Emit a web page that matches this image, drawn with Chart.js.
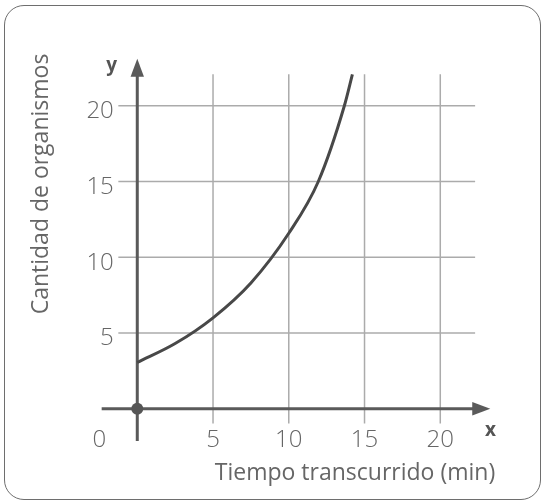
<!DOCTYPE html>
<html>
<head>
<meta charset="utf-8">
<script src="https://cdn.jsdelivr.net/npm/chart.js"></script>
<style>
  html, body { margin: 0; padding: 0; background: #fff; }
  #wrap { position: relative; width: 545px; height: 504px; }
  #frame {
    position: absolute; left: 4px; top: 5px; width: 537px; height: 495px;
    border: 1.5px solid #6e6e6e; border-radius: 20px; box-sizing: border-box;
  }
  canvas { position: absolute; left: 0; top: 0; }
</style>
</head>
<body>
<div id="wrap">
  <div id="frame"></div>
  <canvas id="growthChart" width="545" height="504"></canvas>
</div>
<script>
// tiempo (min) y cantidad de organismos
const tiempo = [0, 2.5, 5, 7.5, 10, 11.95, 13.67, 14.2];
const organismos = [3.05, 4.3, 6, 8.3, 11.58, 15, 20, 22.07];
const xTicks = [5, 10, 15, 20];
const yTicks = [5, 10, 15, 20];
const xTitle = "Tiempo transcurrido (min)";
const yTitle = "Cantidad de organismos";

const FONT = "'Open Sans', sans-serif";

const axesPlugin = {
  id: "axesPlugin",
  beforeDatasetsDraw(chart) {
    const { ctx, scales: { x, y } } = chart;
    const px = (v) => x.getPixelForValue(v);
    const py = (v) => y.getPixelForValue(v);
    ctx.save();

    // grid
    ctx.strokeStyle = "#ababab";
    ctx.lineWidth = 1.5;
    xTicks.forEach((t) => {
      ctx.beginPath();
      ctx.moveTo(px(t), py(22.07));
      ctx.lineTo(px(t), py(-0.97));
      ctx.stroke();
    });
    yTicks.forEach((t) => {
      ctx.beginPath();
      ctx.moveTo(px(-1.25), py(t));
      ctx.lineTo(px(22.3), py(t));
      ctx.stroke();
    });

    // axes
    ctx.strokeStyle = "#5a5a5a";
    ctx.fillStyle = "#5a5a5a";
    ctx.lineWidth = 3;
    ctx.beginPath();
    ctx.moveTo(px(-2.35), py(0));
    ctx.lineTo(px(22.2), py(0));
    ctx.stroke();
    ctx.beginPath();
    ctx.moveTo(px(0), py(-2.13));
    ctx.lineTo(px(0), py(22.0));
    ctx.stroke();

    // arrow heads
    const ax = px(23.3), ay = py(0);
    ctx.beginPath();
    ctx.moveTo(ax, ay);
    ctx.lineTo(ax - 18, ay - 6.7);
    ctx.lineTo(ax - 18, ay + 6.7);
    ctx.closePath();
    ctx.fill();
    const bx = px(0), by = py(23.1);
    ctx.beginPath();
    ctx.moveTo(bx, by);
    ctx.lineTo(bx - 6.7, by + 18);
    ctx.lineTo(bx + 6.7, by + 18);
    ctx.closePath();
    ctx.fill();

    // tick labels
    ctx.fillStyle = "#666";
    ctx.font = "300 24px " + FONT;
    ctx.textBaseline = "alphabetic";
    ctx.textAlign = "center";
    xTicks.forEach((t) => ctx.fillText(String(t), px(t), py(0) + 38));
    ctx.fillText("0", px(-2.5), py(0) + 38);
    ctx.textAlign = "right";
    yTicks.forEach((t) => ctx.fillText(String(t), px(-1.55), py(t) + 12.5));

    // axis letters
    ctx.fillStyle = "#555";
    ctx.font = "bold 19px " + FONT;
    ctx.textAlign = "center";
    ctx.fillText("x", 490.5, 435.5);
    ctx.fillText("y", 111.7, 71);

    // titles
    ctx.fillStyle = "#666";
    ctx.font = "23px " + FONT;
    ctx.fillText(xTitle, 355, 480);
    ctx.translate(48, 184);
    ctx.rotate(-Math.PI / 2);
    ctx.fillText(yTitle, 0, 0);
    ctx.restore();
  },
  afterDatasetsDraw(chart) {
    const { ctx, scales: { x, y } } = chart;
    ctx.save();
    ctx.fillStyle = "#555";
    ctx.beginPath();
    ctx.arc(x.getPixelForValue(0), y.getPixelForValue(0), 6, 0, Math.PI * 2);
    ctx.fill();
    ctx.restore();
  },
};

new Chart(document.getElementById("growthChart"), {
  type: "line",
  data: {
    datasets: [
      {
        data: tiempo.map((t, i) => ({ x: t, y: organismos[i] })),
        borderColor: "#484848",
        borderWidth: 3,
        pointRadius: 0,
        cubicInterpolationMode: "monotone",
        fill: false,
      },
    ],
  },
  options: {
    responsive: false,
    animation: false,
    layout: { padding: { left: 99.4, right: 51.7, top: 52.7, bottom: 57.4 } },
    plugins: { legend: { display: false }, tooltip: { enabled: false } },
    scales: {
      x: { type: "linear", min: -2.5, max: 23.5, display: false },
      y: { type: "linear", min: -2.5, max: 23.5, display: false },
    },
  },
  plugins: [axesPlugin],
});
</script>
</body>
</html>
